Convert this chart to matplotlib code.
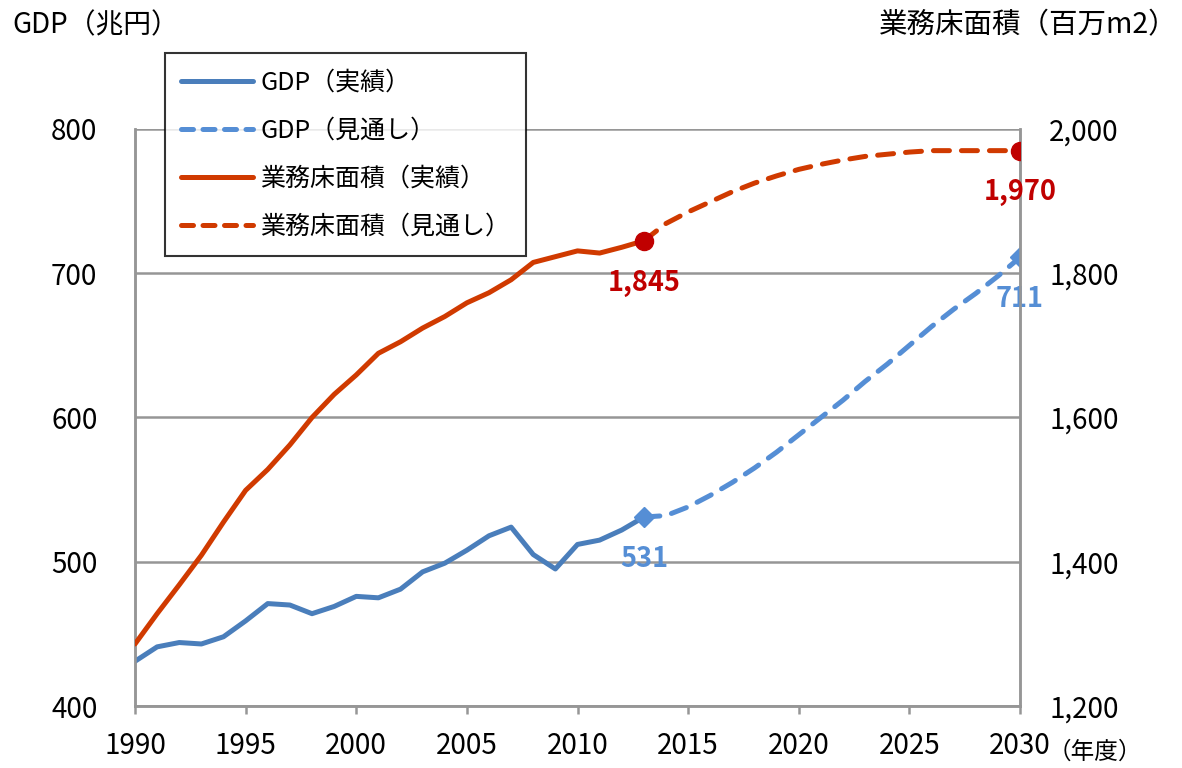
import numpy as np
import matplotlib.pyplot as plt
from matplotlib.lines import Line2D

plt.rcParams['font.family'] = ['Noto Sans CJK JP', 'DejaVu Sans']

# data
years_act = list(range(1990, 2014))
gdp_act = [431, 441, 444, 443, 448, 459, 471, 470, 464, 469, 476, 475, 481, 493,
           499, 508, 518, 524, 505, 495, 512, 515, 522, 531]
floor_act = [1286, 1328, 1368, 1409, 1455, 1499, 1528, 1562, 1600, 1632, 1659, 1689,
             1705, 1724, 1740, 1759, 1773, 1791, 1815, 1823, 1831, 1828, 1836, 1845]

years_fc = list(range(2013, 2031))
gdp_fc = [531, 532, 538, 546, 555, 565, 576, 588, 600, 612, 625, 637, 650, 663,
          675, 686, 698, 711]
floor_fc = [1845, 1869, 1885, 1899, 1913, 1925, 1935, 1944, 1951, 1957, 1962, 1965,
            1968, 1970, 1970, 1970, 1970, 1970]

c_gdp = '#4A7EBB'
c_gdp_fc = '#558ED5'
c_floor = '#D03A00'
c_mark = '#C00000'
c_grid = '#969696'
lw = 3.6
dash = (0, (3.2, 2.4))

fig = plt.figure(figsize=(11.82, 7.68), dpi=100)
ax = fig.add_axes([135/1182, 1-706/768, 885/1182, 577/768])
ax2 = ax.twinx()

ax.plot(years_act, gdp_act, color=c_gdp, lw=lw, solid_capstyle='round', zorder=3)
ax.plot(years_fc, gdp_fc, color=c_gdp_fc, lw=lw, ls=dash,
        dash_capstyle='round', marker='D', ms=10, markevery=[0, len(years_fc)-1],
        mfc=c_gdp_fc, mec=c_gdp_fc, zorder=3)
ax2.plot(years_act, floor_act, color=c_floor, lw=lw, solid_capstyle='round', zorder=3)
ax2.plot(years_fc, floor_fc, color=c_floor, lw=lw, ls=dash,
         dash_capstyle='round', zorder=3)
ax2.plot([years_fc[0], years_fc[-1]], [floor_fc[0], floor_fc[-1]], ls='none',
         marker='o', ms=13, mfc=c_mark, mec=c_mark, zorder=4)

ax.set_xlim(1990, 2030)
ax.set_ylim(400, 800)
ax2.set_ylim(1200, 2000)
ax.set_xticks(range(1990, 2031, 5))
ax.set_yticks(range(400, 801, 100))
ax2.set_yticks(range(1200, 2001, 200))
ax2.set_yticklabels([f'{v:,}' for v in range(1200, 2001, 200)])

ax.grid(axis='y', color=c_grid, lw=1.8, zorder=0)
ax.set_axisbelow(True)
for a in (ax, ax2):
    a.spines['top'].set_visible(False)
    for s in ('left', 'right', 'bottom'):
        a.spines[s].set_color(c_grid)
        a.spines[s].set_linewidth(1.8)
ax.tick_params(axis='y', direction='in', length=0, pad=27, labelsize=20)
ax2.tick_params(axis='y', direction='in', length=0, pad=21, labelsize=20)
ax.tick_params(axis='x', direction='out', length=6, width=1.8, color=c_grid,
               pad=12, labelsize=20)

# labels of end values
ax2.text(2013, 1845 - 58, '1,845', color=c_mark, fontsize=19.5, fontweight='bold',
         ha='center', va='center')
ax2.text(2030, 1970 - 58, '1,970', color=c_mark, fontsize=19.5, fontweight='bold',
         ha='center', va='center')
ax.text(2013, 531 - 29, '531', color=c_gdp_fc, fontsize=19.5, fontweight='bold',
        ha='center', va='center')
ax.text(2030, 711 - 29, '711', color=c_gdp_fc, fontsize=19.5, fontweight='bold',
        ha='center', va='center')

fig.text(12/1182, 1-25/768, 'GDP（兆円）', fontsize=20, ha='left', va='center')
fig.text(1178/1182, 1-25/768, '業務床面積（百万m2）', fontsize=20.5, ha='right', va='center')
fig.text(1048/1182, 1-752/768, '（年度）', fontsize=17, ha='left', va='center')

handles = [
    Line2D([], [], color=c_gdp, lw=lw, solid_capstyle='round'),
    Line2D([], [], color=c_gdp_fc, lw=lw, ls=(0, (2.4, 1.9)), dash_capstyle='round'),
    Line2D([], [], color=c_floor, lw=lw, solid_capstyle='round'),
    Line2D([], [], color=c_floor, lw=lw, ls=(0, (2.4, 1.9)), dash_capstyle='round'),
]
labels = ['GDP（実績）', 'GDP（見通し）', '業務床面積（実績）', '業務床面積（見通し）']
leg = ax2.legend(handles, labels, loc='upper left', bbox_to_anchor=(165/1182, 1-53/768),
                 bbox_transform=fig.transFigure, fontsize=18, frameon=True,
                 fancybox=False, edgecolor='black', handlelength=2.85, handletextpad=0.3,
                 labelspacing=0.88, borderpad=0.65, borderaxespad=0)
leg.get_frame().set_linewidth(1.5)
leg.set_zorder(10)

fig.savefig('out.png', dpi=100, facecolor='white')
